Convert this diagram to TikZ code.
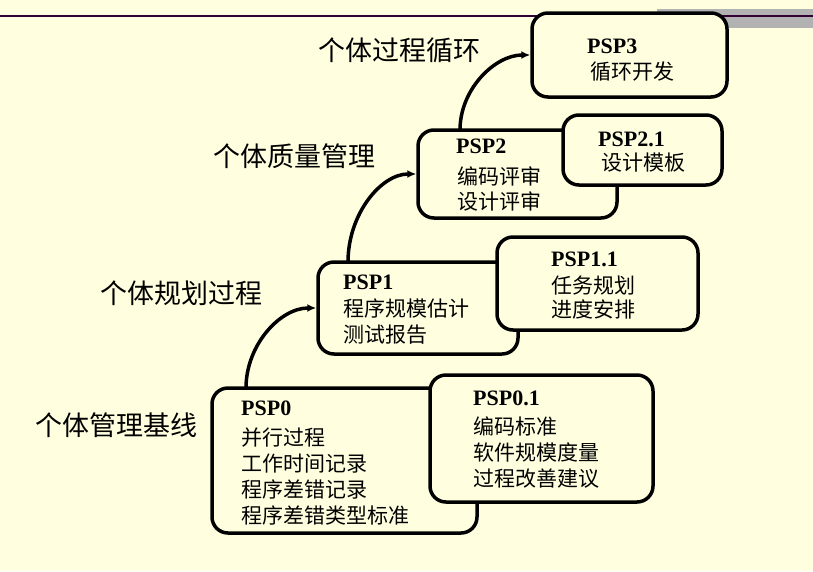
\documentclass[tikz,border=0pt]{standalone}
\usepackage{fontspec}
\setmainfont{Liberation Serif}
\newfontfamily\cjk{Noto Sans CJK SC}
\usetikzlibrary{arrows.meta}
\definecolor{bg}{RGB}{255,255,224}
\definecolor{rulecol}{RGB}{51,0,51}
\definecolor{barcol}{RGB}{178,178,178}
\begin{document}
\begin{tikzpicture}[x=1pt,y=-1pt,
  stagebox/.style={draw=black, line width=3.5pt, rounded corners=16pt, fill=bg,
    inner sep=0pt, outer sep=0pt, anchor=north west},
  head/.style={anchor=base west, inner sep=0pt, font=\bfseries\fontsize{22}{26}\selectfont},
  item/.style={anchor=base west, inner sep=0pt, font=\cjk\fontsize{21}{26}\selectfont},
  level/.style={anchor=base west, inner sep=0pt, font=\cjk\fontsize{27}{30}\selectfont},
  climb/.style={line width=3.5pt, shorten >=1.75pt, -{Latex[length=9pt,width=8pt]}}]

% page background and header decoration
\fill[bg] (0,0) rectangle (813,571);
\useasboundingbox (0,0) rectangle (813,571);
\fill[barcol] (657,9) rectangle (813,28);
\draw[rulecol, line width=2pt] (0,16) -- (813,16);

% stage boxes (lower layer first, supplements on top)
\node[stagebox, minimum width=265pt, minimum height=145pt] (p0)  at (212,388) {};
\node[stagebox, minimum width=223pt, minimum height=127pt] (p01) at (430,375) {};
\node[stagebox, minimum width=200pt, minimum height=92pt]  (p1)  at (318,262) {};
\node[stagebox, minimum width=201pt, minimum height=93pt]  (p11) at (497,237) {};
\node[stagebox, minimum width=199pt, minimum height=88pt]  (p2)  at (418,130) {};
\node[stagebox, minimum width=159pt, minimum height=70pt]  (p21) at (563,115) {};
\node[stagebox, minimum width=195pt, minimum height=84pt]  (p3)  at (532,13)  {};

% PSP0
\node[head] (h0) at (241,415) {PSP0};
\node[item] (t0a) at (241,445) {并行过程};
\node[item] (t0b) at (241,471) {工作时间记录};
\node[item] (t0c) at (241,497) {程序差错记录};
\node[item] (t0d) at (241,523) {程序差错类型标准};

% PSP0.1
\node[head] (h01) at (473,405) {PSP0.1};
\node[item] (t01a) at (473,434.5) {编码标准};
\node[item] (t01b) at (473,460.5) {软件规模度量};
\node[item] (t01c) at (473,486.5) {过程改善建议};

% PSP1
\node[head] (h1) at (343,289) {PSP1};
\node[item] (t1a) at (343,316) {程序规模估计};
\node[item] (t1b) at (343,342) {测试报告};

% PSP1.1
\node[head] (h11) at (551,266) {PSP1.1};
\node[item] (t11a) at (551,293) {任务规划};
\node[item] (t11b) at (551,317) {进度安排};

% PSP2
\node[head] (h2) at (456,153) {PSP2};
\node[item] (t2a) at (457,184.5) {编码评审};
\node[item] (t2b) at (457,209.5) {设计评审};

% PSP2.1
\node[head] (h21) at (598,146) {PSP2.1};
\node[item] (t21a) at (601,170.5) {设计模板};

% PSP3
\node[head] (h3) at (587,53) {PSP3};
\node[item] (t3a) at (590,79) {循环开发};

% level captions
\node[level] (l0) at (35,435)  {个体管理基线};
\node[level] (l1) at (100,303) {个体规划过程};
\node[level] (l2) at (213,166) {个体质量管理};
\node[level] (l3) at (318,60)  {个体过程循环};

% climbing arrows between levels
\draw[climb] ([xshift=34pt]p0.north west) .. controls +(0,-43) and +(-38,0) .. (p1.west);
\draw[climb] ([xshift=30pt]p1.north west) .. controls +(0,-48) and +(-37,0) .. (p2.west);
\draw[climb] ([xshift=42pt]p2.north west) .. controls +(0,-41) and +(-37,0) .. (p3.west);
\end{tikzpicture}
\end{document}
